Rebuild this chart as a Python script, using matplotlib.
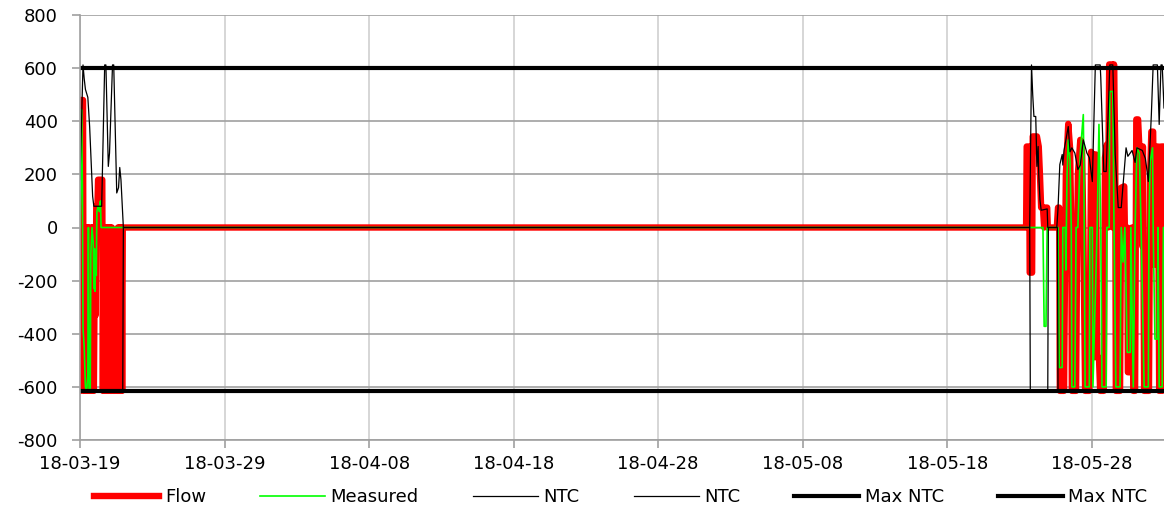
import pandas as pd
import matplotlib
matplotlib.use('Agg')
import matplotlib.pyplot as plt
import matplotlib.dates as mdates

plt.rcParams['font.family'] = ['DejaVu Sans']
plt.rcParams['axes.unicode_minus'] = False

start = pd.Timestamp('2018-03-19')
end = pd.Timestamp('2018-06-02')

# hours since 18-03-19 00:00 and MW
flow_h = [0, 0.5, 1.5, 5, 6, 7, 9, 10, 12, 13,
          14, 16, 17, 19, 20, 21, 23, 24, 25, 26,
          27, 29, 30, 37, 38, 39, 40, 41, 42, 43,
          44, 45, 46, 47, 48, 49, 50, 51, 52, 53,
          55, 56, 57, 58, 59, 61, 62, 63, 64, 65,
          66, 67, 68, 69, 70, 71,
          1571, 1572, 1576, 1577, 1581, 1582, 1589, 1592, 1594, 1596,
          1599, 1601, 1602, 1606, 1607, 1622, 1624, 1626, 1627, 1634,
          1637, 1641, 1644, 1646, 1647, 1654, 1656, 1657, 1661, 1664,
          1666, 1669, 1676, 1679, 1682, 1684, 1687, 1689, 1692, 1694,
          1700, 1702, 1705, 1707, 1709, 1714, 1715, 1717, 1719, 1720,
          1727, 1729, 1734, 1735, 1739, 1740, 1745, 1747, 1749, 1752,
          1754, 1757, 1759, 1762, 1764, 1765, 1767, 1775, 1777, 1779,
          1782, 1784, 1787, 1789, 1790, 1792, 1795, 1797, 1799, 1800]
flow_mw = [0, -615, 480, 480, -615, 0, -615, 0, 0, -615,
           0, -615, 0, 0, -615, 0, -615, -330, 0, -330,
           80, 80, 180, 180, -615, 0, -615, 0, -615, 0,
           -615, 0, -615, 0, -615, 0, -615, 0, -615, 0,
           -355, -615, -355, -615, -355, -355, -615, 0, -615, 0,
           -615, 0, -615, 0, -615, 0,
           0, 305, 305, -170, -170, 343, 343, 305, 200, 75,
           75, 0, 75, 75, 0, 0, 75, 75, -615, -615,
           200, 390, 300, 0, -615, -615, 0, 200, 330, 282,
           0, -615, -615, 285, -490, 275, 275, -490, -490, -615,
           -615, 263, 312, 0, 614, 614, 0, 614, 300, -615,
           -615, 150, 155, 0, 0, -545, -545, 0, -615, -615,
           407, 407, 305, 305, -70, 305, -615, -615, 200, 361,
           361, -140, -140, 305, 305, -615, 305, -615, 305, 305]

meas_h = [0, 1.5, 2.5, 4, 5, 7, 9, 11, 13, 14,
          15, 17, 18, 20, 22, 23, 24, 25, 26, 27,
          28, 30, 32, 34, 35,
          1599, 1601, 1604, 1606, 1624, 1626, 1631, 1632, 1636, 1637,
          1639, 1641, 1644, 1646, 1647, 1652, 1654, 1657, 1661, 1666,
          1667, 1669, 1676, 1677, 1681, 1682, 1689, 1692, 1695, 1697,
          1704, 1705, 1709, 1710, 1715, 1717, 1720, 1727, 1729, 1732,
          1735, 1739, 1744, 1745, 1749, 1752, 1755, 1759, 1762, 1767,
          1774, 1775, 1777, 1781, 1782, 1785, 1789, 1790, 1792, 1797,
          1799, 1800]
meas_mw = [0, 180, 444, 150, -380, -450, -600, -615, -560, 0,
           -615, -615, -100, 0, -60, -230, -80, -240, -120, -180,
           60, 80, 60, 100, 0,
           0, -372, -372, 0, 0, -527, -527, 0, 0, -160,
           200, 330, 250, 0, -600, -600, 0, 0, 280, 425,
           200, -600, -600, 0, 0, -600, 0, 388, 0, -600,
           -600, 0, 0, 512, 512, 0, -600, -600, 0, -130,
           0, -470, -470, 0, -600, 0, 300, 280, 0, -600,
           -600, 0, 250, 300, 0, -420, -420, 0, -600, -600,
           0, 0]

ntc_up_h = [0, 5, 7, 9, 13, 16, 21, 23, 36, 41,
            43, 47, 49, 54, 56, 61, 64, 66, 68, 72,
            1577, 1580, 1582, 1584, 1587, 1589, 1591, 1592, 1594, 1596,
            1606, 1607, 1622, 1624, 1627, 1631, 1632, 1634, 1641, 1644,
            1647, 1652, 1657, 1661, 1666, 1672, 1676, 1681, 1686, 1694,
            1695, 1700, 1704, 1710, 1715, 1719, 1724, 1729, 1737, 1740,
            1747, 1752, 1755, 1764, 1769, 1772, 1774, 1779, 1782, 1789,
            1792, 1795, 1797, 1800]
ntc_up_mw = [180, 612, 560, 520, 490, 380, 117, 80, 80, 612,
             612, 230, 280, 612, 612, 130, 150, 226, 180, 0,
             0, 612, 500, 418, 418, 230, 305, 200, 105, 65,
             70, 0, 0, 72, 237, 275, 235, 290, 380, 285,
             300, 280, 218, 235, 330, 280, 263, 173, 612, 612,
             565, 211, 211, 612, 612, 275, 75, 75, 300, 268,
             290, 245, 300, 290, 260, 211, 173, 425, 612, 612,
             388, 612, 612, 450]

ntc_dn_h = [0, 71, 72, 1577, 1578, 1607, 1608, 1623, 1624, 1800]
ntc_dn_mw = [-615, -615, 0, 0, -615, -615, 0, 0, -615, -615]

max_h = [0, 1800]
max_up_mw = [600, 600]
max_dn_mw = [-615, -615]


def to_time(hours):
    return start + pd.to_timedelta(hours, unit='h')


fig = plt.figure(figsize=(11.64, 5.07), dpi=100)
ax = fig.add_axes([80 / 1164, 67 / 507, 1084 / 1164, 425 / 507])

ax.plot(to_time(flow_h), flow_mw, color='#ff0000', lw=4.6, label='Flow')
ax.plot(to_time(meas_h), meas_mw, color='#00ff00', lw=1.2, label='Measured')
ax.plot(to_time(ntc_up_h), ntc_up_mw, color='black', lw=0.9, label='NTC')
ax.plot(to_time(ntc_dn_h), ntc_dn_mw, color='black', lw=0.9, label='NTC')
ax.plot(to_time(max_h), max_up_mw, color='black', lw=3.0, label='Max NTC')
ax.plot(to_time(max_h), max_dn_mw, color='black', lw=3.0, label='Max NTC')

ax.set_xlim(start, end)
ax.set_ylim(-800, 800)
ax.set_yticks(range(-800, 801, 200))
ax.set_xticks(pd.date_range(start, periods=8, freq='10D'))
ax.xaxis.set_major_formatter(mdates.DateFormatter('%y-%m-%d'))

ax.grid(axis='y', color='#a0a0a0', lw=1.2)
ax.grid(axis='x', color='#d0d0d0', lw=1.2)
ax.set_axisbelow(True)

for side in ['top', 'right']:
    ax.spines[side].set_visible(False)
for side in ['left', 'bottom']:
    ax.spines[side].set_color('#a0a0a0')
    ax.spines[side].set_linewidth(1.2)

ax.tick_params(axis='both', colors='#a0a0a0', labelcolor='black',
               labelsize=13, length=6, width=1.2)
ax.tick_params(axis='y', pad=10)
ax.tick_params(axis='x', pad=5)

fig.legend(loc='center', bbox_to_anchor=(621 / 1164, 10 / 507), ncol=6,
           frameon=False, fontsize=13, handlelength=3.6, handletextpad=0.3,
           columnspacing=3.0)

fig.savefig('out.png', dpi=100)
